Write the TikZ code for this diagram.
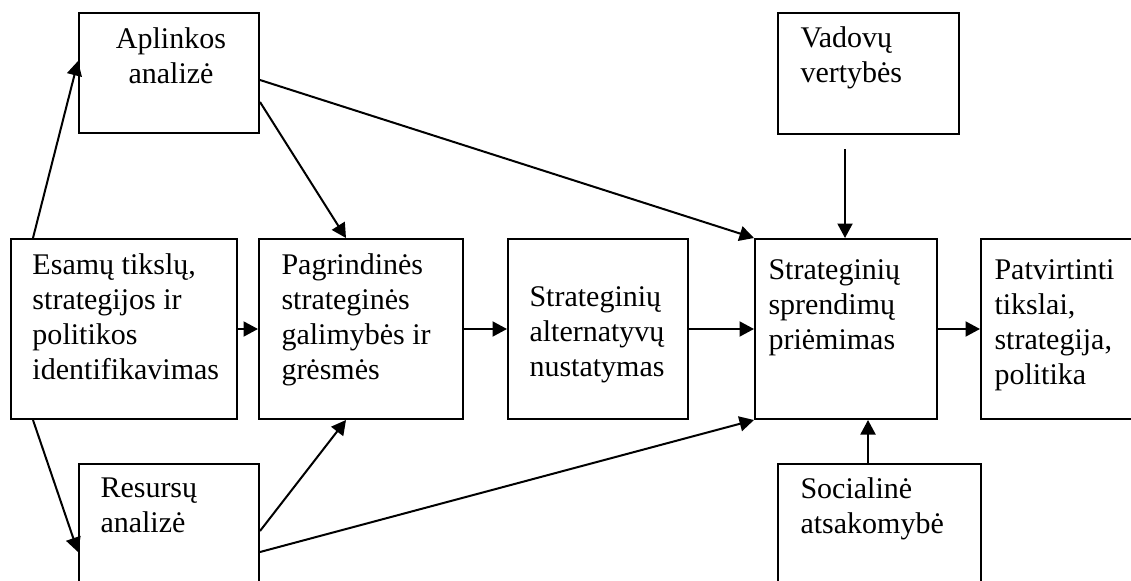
\documentclass[tikz,border=0pt]{standalone}
\usepackage{fontspec}
\setmainfont{Liberation Serif}
\usetikzlibrary{arrows.meta,calc,positioning}
\tikzset{
  stratframe/.style={draw,line width=0.8pt,inner sep=0pt},
  stratlabel/.style={inner sep=0pt,font=\fontsize{12pt}{14pt}\selectfont,align=left,
    execute at begin node=\strut},
  flow/.style={line width=0.8pt,-{Triangle[length=5.8pt,width=6pt]}}
}
\newcommand{\stratbox}[5]{%
  \node[stratframe,minimum width={(#4-#2)*0.4pt},minimum height={(#5-#3)*0.4pt}]
    (#1) at ({(#2+#4)/2},{(#3+#5)/2}) {};
}
\newcommand{\stratlines}[4]{%
  \node[stratlabel,anchor=north west] (#1-text) at ($(#1.north west)+(#2,#3-24.5)$) {#4};
}

\begin{document}
\begin{tikzpicture}[x=0.4pt,y=-0.4pt]
    \clip (0,0) rectangle (1131,580);
    \stratbox{apl}{79}{13}{259}{133}
    \stratbox{vad}{778}{13}{959}{134}
    \stratbox{esa}{11}{239}{237}{419}
    \stratbox{pag}{259}{239}{463}{419}
    \stratbox{alt}{508}{239}{688}{419}
    \stratbox{spr}{755}{239}{937}{419}
    \stratbox{pat}{981}{239}{1140}{419}
    \stratbox{res}{79}{464}{259}{600}
    \stratbox{soc}{778}{464}{981}{600}
    \node[stratlabel,align=center,anchor=north] (apl-text) at ($(apl.north)+(2,15.5)$) {Aplinkos\\analizė};
    \stratlines{vad}{23}{39}{Vadovų\\vertybės}
    \stratlines{esa}{22}{40}{Esamų tikslų,\\strategijos ir\\politikos\\identifikavimas}
    \stratlines{pag}{23}{40}{Pagrindinės\\strateginės\\galimybės ir\\grėsmės}
    \stratlines{alt}{22}{73}{Strateginių\\alternatyvų\\nustatymas}
    \stratlines{spr}{14}{46}{Strateginių\\sprendimų\\priėmimas}
    \stratlines{pat}{14}{46}{Patvirtinti\\tikslai,\\strategija,\\politika}
    \stratlines{res}{22}{39}{Resursų\\analizė}
    \stratlines{soc}{23}{39}{Socialinė\\atsakomybė}
    \draw[flow] ($(esa.north west)+(23,0)$) -- ($(apl.north west)+(0,49)$);
    \draw[flow] ($(esa.south west)+(23,0)$) -- ($(res.north west)+(0,89)$);
    \draw[flow] ($(apl.north east)+(0,68)$) -- (spr.north west);
    \draw[flow] ($(apl.north east)+(0,90)$) -- ($(pag.north west)+(88,0)$);
    \draw[flow] ($(res.north east)+(0,68)$) -- ($(pag.south west)+(88,0)$);
    \draw[flow] ($(res.north east)+(0,89)$) -- (spr.south west);
    \draw[flow] (esa.east) -- (pag.west);
    \draw[flow] (pag.east) -- (alt.west);
    \draw[flow] (alt.east) -- (spr.west);
    \draw[flow] (spr.east) -- (pat.west);
    \coordinate (vadtail) at ($(vad.south west)+(68,14)$);
    \draw[flow] (vadtail) -- (vadtail |- spr.north);
    \coordinate (soctail) at ($(soc.north west)+(91,0)$);
    \draw[flow] (soctail) -- (soctail |- spr.south);
\end{tikzpicture}
\end{document}
